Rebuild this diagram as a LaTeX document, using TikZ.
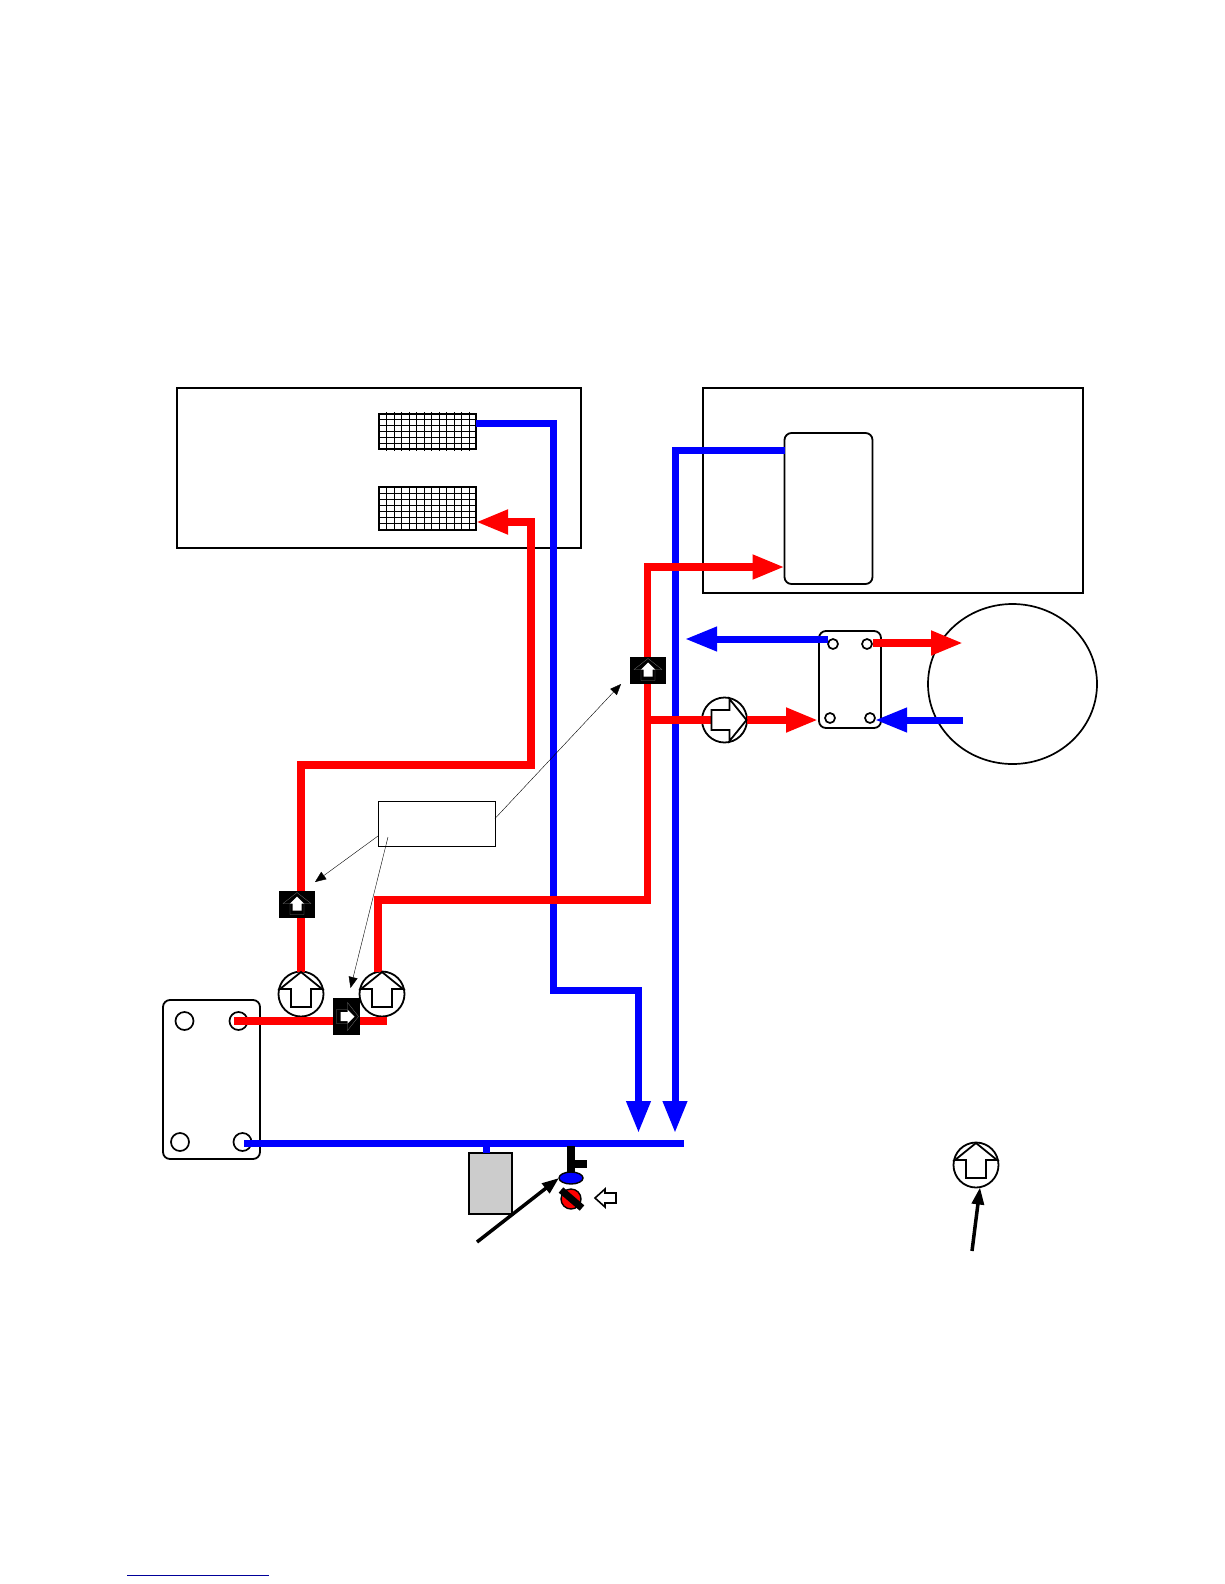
\documentclass[tikz,border=0pt]{standalone}
\usepackage{xcolor}
\usetikzlibrary{positioning, arrows.meta, shapes.geometric}
\definecolor{pipered}{RGB}{255,0,0}
\definecolor{pipeblue}{RGB}{0,0,255}
\begin{document}
\begin{tikzpicture}[
    x=1pt, y=-1pt,
    every node/.style={inner sep=0pt, outer sep=0pt},
    room/.style={rectangle, draw, line width=1.7pt},
    mesh/.style={rectangle, draw, line width=2pt, minimum width=97pt},
    meshline/.style={line width=1pt},
    plate/.style={rectangle, draw, line width=1.8pt, rounded corners=7pt},
    hole/.style={circle, draw, line width=1.7pt},
    pump/.style={circle, draw, line width=1.8pt, minimum size=45pt},
    sensor/.style={rectangle, fill=black},
    redpipe/.style={draw=pipered, line width=7.5pt},
    bluepipe/.style={draw=pipeblue, line width=7pt},
    flow/.style={-{Triangle[length=32pt, width=23pt]}},
    tagline/.style={draw, line width=0.4pt, -{Triangle[length=11pt, width=9pt]}},
    pointer/.style={draw, line width=3.5pt, -{Triangle[length=17pt, width=12pt]}},
    pumparrow/.pic={
        \draw[line width=1.8pt, fill=white] (0,-22) -- (21,-5) -- (10,-5) -- (10,13)
            -- (-10,13) -- (-10,-5) -- (-21,-5) -- cycle;
    },
    sensorarrow/.pic={
        \draw[line width=0.3pt, black!55] (0,-12) -- (14,-1) -- (7,-1) -- (7,10)
            -- (-7,10) -- (-7,-1) -- (-14,-1) -- cycle;
        \fill[white] (0,-8) -- (7,-1) -- (4.5,-1) -- (4.5,6)
            -- (-4.5,6) -- (-4.5,-1) -- (-7,-1) -- cycle;
    }
]
\useasboundingbox (0,0) rectangle (1224,1584);

\node[room, minimum width=404pt, minimum height=160pt] (roomleft) at (379,468) {};
\node[room, minimum width=380pt, minimum height=205pt] (roomright) at (893,490.5) {};
\node[mesh, minimum height=35pt] (grida) at (427.5,431.5) {};
\node[mesh, minimum height=43pt] (gridb) at (427.5,508.5) {};
\foreach \k in {1,...,12} {
    \draw[meshline] ([xshift=\k*7.5pt, yshift=2pt]grida.north west) -- ([xshift=\k*7.5pt, yshift=-2pt]grida.south west);
    \draw[meshline] ([xshift=\k*7.5pt]gridb.north west) -- ([xshift=\k*7.5pt]gridb.south west);
}
\foreach \k in {1,...,5} {
    \draw[meshline] ([yshift=-\k*5.8pt]grida.north west) -- ([yshift=-\k*5.8pt]grida.north east);
}
\foreach \k in {1,...,6} {
    \draw[meshline] ([yshift=-\k*6.1pt]gridb.north west) -- ([yshift=-\k*6.1pt]gridb.north east);
}
\node[plate, minimum width=88pt, minimum height=151pt] (tank) at (828.5,508.5) {};
\node[ellipse, draw, line width=1.7pt, minimum width=169pt, minimum height=160pt] (vessel) at (1012.5,684) {};

\node[plate, minimum width=97pt, minimum height=159pt] (hxa) at (211.5,1079.5) {};
\node[hole, minimum size=18pt] (holea) at ([xshift=21.5pt, yshift=-21pt]hxa.north west) {};
\node[hole, minimum size=18pt] (holeb) at ([xshift=75.5pt, yshift=-21pt]hxa.north west) {};
\node[hole, minimum size=18pt] (holec) at ([xshift=17pt, yshift=-142pt]hxa.north west) {};
\node[hole, minimum size=18pt] (holed) at ([xshift=79.5pt, yshift=-142pt]hxa.north west) {};

\node[plate, minimum width=62pt, minimum height=97pt] (hxb) at (850,679.5) {};
\node[hole, minimum size=10pt] (holee) at ([xshift=14pt, yshift=-13pt]hxb.north west) {};
\node[hole, minimum size=10pt] (holef) at ([xshift=48pt, yshift=-13pt]hxb.north west) {};
\node[hole, minimum size=10pt] (holeg) at ([xshift=11pt, yshift=-87pt]hxb.north west) {};
\node[hole, minimum size=10pt] (holeh) at ([xshift=51pt, yshift=-87pt]hxb.north west) {};

\node[pump] (pumpa) at (301,994) {};
\node[pump, right=36pt of pumpa] (pumpb) {};
\node[pump] (pumpc) at (724.5,720) {};
\node[pump] (pumpd) at (976,1165) {};

\node[rectangle, draw, line width=1.4pt, fill=black!20, minimum width=43pt, minimum height=61pt] (vesselb) at (490.5,1183.5) {};
\node[rectangle, draw, line width=0.5pt, minimum width=117pt, minimum height=45pt] (tagbox) at (436.5,823.5) {};

\coordinate (blueturna) at (553,423);
\coordinate (blueturnb) at (553,990);
\coordinate (blueturnc) at (638.5,990);
\coordinate (blueenda) at (638.5,1133);
\coordinate (blueturnd) at (675,450);
\coordinate (blueendb) at (675,1133);
\coordinate (mainend) at (684,1143);
\coordinate (mainstart) at (244,1143);
\coordinate (vesseltap) at (486,1143);
\coordinate (backend) at (685,639);
\coordinate (backstart) at (828,639);
\coordinate (retstart) at (963,720);
\coordinate (retend) at (875,720);

\draw[bluepipe, flow] ([yshift=8.5pt]grida.east) -- (blueturna) -- (blueturnb) -- (blueturnc) -- (blueenda);
\draw[bluepipe, flow] ([yshift=58.5pt]tank.west) -- (blueturnd) -- (blueendb);
\draw[bluepipe] (mainstart) -- (mainend);
\draw[bluepipe] (vesseltap) -- (vesselb.north -| vesseltap);
\draw[bluepipe, flow] (backstart) -- (backend);
\draw[bluepipe, flow] (retstart) -- (retend);

\coordinate (redturna) at (301,765);
\coordinate (redturnb) at (531,765);
\coordinate (redturnc) at (531,522);
\coordinate (redturnd) at (378,900);
\coordinate (redturne) at (647.5,900);
\coordinate (redturnf) at (647.5,567);
\coordinate (redtee) at (647.5,720);
\coordinate (redstart) at (234,1021);
\coordinate (redend) at (387,1021);
\coordinate (hotstart) at (873,643);
\coordinate (hotend) at (963,643);
\coordinate (feedend) at (818,720);

\draw[redpipe, flow] (pumpa.north) -- (redturna) -- (redturnb) -- (redturnc) -- ([yshift=-13.5pt]gridb.east);
\draw[redpipe, flow] ([xshift=-4pt]pumpb.north) -- (redturnd) -- (redturne) -- (redturnf) -- ([yshift=-58.5pt]tank.west);
\draw[redpipe] (redtee) -- (pumpc.center);
\draw[redpipe, flow] (pumpc.east) -- (feedend);
\draw[redpipe] (redstart) -- (redend);
\draw[redpipe, flow] (hotstart) -- (hotend);

\pic at (pumpa) {pumparrow};
\pic at (pumpb) {pumparrow};
\pic[rotate=-90] at (pumpc) {pumparrow};
\pic at (pumpd) {pumparrow};

\node[sensor, minimum width=36pt, minimum height=27pt] (sensora) at (297,904.5) {};
\node[sensor, minimum width=27pt, minimum height=37pt] (sensorb) at (346.5,1016.5) {};
\node[sensor, minimum width=36pt, minimum height=27pt] (sensorc) at (648,670.5) {};
\pic at (sensora) {sensorarrow};
\pic[rotate=-90] at (sensorb) {sensorarrow};
\pic at (sensorc) {sensorarrow};

\draw[tagline] ([yshift=10pt]tagbox.south west) -- ([yshift=9pt]sensora.north east);
\draw[tagline] ([xshift=10pt, yshift=9pt]tagbox.south west) -- ([xshift=4pt, yshift=10pt]sensorb.north);
\draw[tagline] ([yshift=5pt]tagbox.east) -- ([xshift=-9pt]sensorc.south west);

\coordinate (stemtop) at (571,1146);
\coordinate (stemstub) at (571,1164);
\coordinate (stubend) at (587,1164);
\node[ellipse, draw, line width=1.4pt, fill=pipeblue, minimum width=24pt, minimum height=12pt] (valvetop) at (571,1178) {};
\node[circle, draw, line width=1.4pt, fill=pipered, minimum size=20pt] (valveball) at (571,1199) {};
\draw[line width=8pt] (stemtop) -- (valvetop.north);
\draw[line width=8pt] (stemstub) -- (stubend);
\draw[line width=7pt] ([xshift=-10pt, yshift=9pt]valveball.center) -- ([xshift=11pt, yshift=-9pt]valveball.center);

\coordinate (hollowtip) at (595,1198);
\node[rectangle, minimum width=1pt, minimum height=1pt] (hollowtail) at (616,1198) {};
\draw[line width=1.6pt, fill=white] (hollowtail.center) ++(0,-5) -- ++(-11,0) -- ++(0,-4) -- (hollowtip) -- ++(10,9) -- ++(0,-4) -- ++(11,0) -- cycle;

\coordinate (pointeratail) at (477,1242);
\draw[pointer] (pointeratail) -- (valvetop.west);
\coordinate (pointerbtail) at (972,1251);
\draw[pointer] (pointerbtail) -- ([xshift=4pt]pumpd.south);

\coordinate (rulestart) at (127,1575);
\coordinate (ruleend) at (269,1575);
\draw[draw=blue!60!black, line width=1pt] (rulestart) -- (ruleend);
\end{tikzpicture}
\end{document}
